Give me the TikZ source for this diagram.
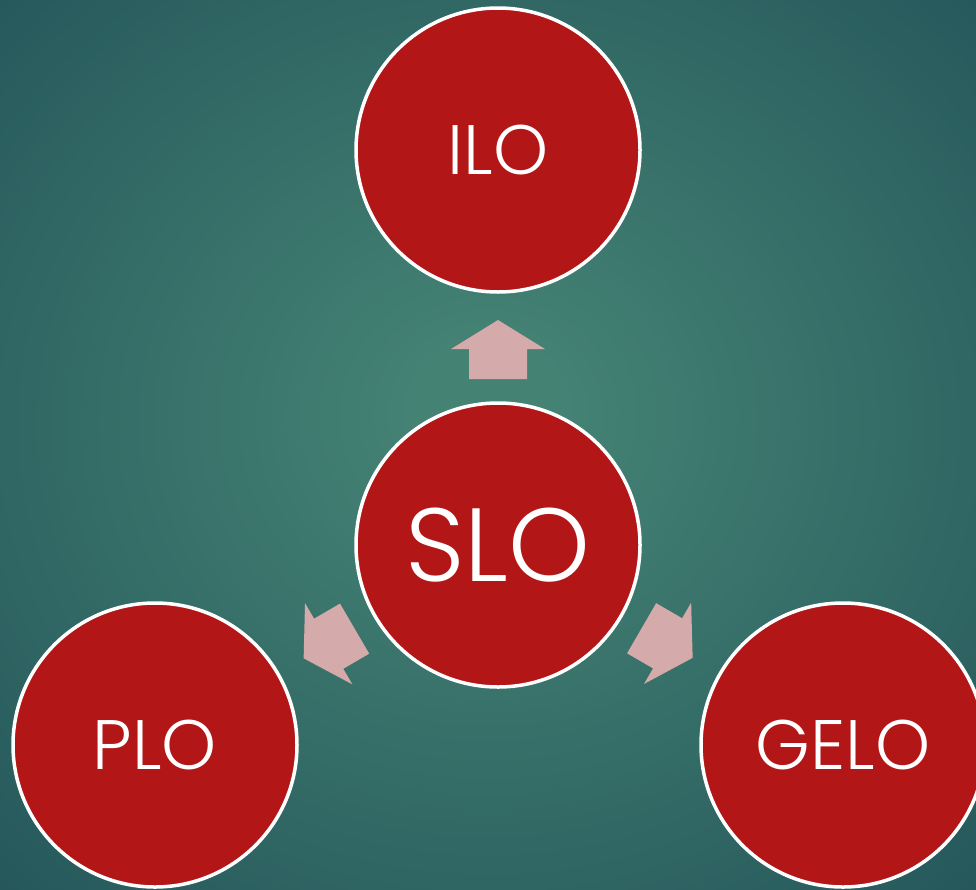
\documentclass[tikz,border=0pt]{standalone}
\usepackage{fontspec}
\setmainfont{Poppins Light}
\usetikzlibrary{calc}
\definecolor{bgin}{RGB}{68,130,116}
\definecolor{bgout}{RGB}{36,86,90}
\definecolor{circred}{RGB}{178,22,22}
\definecolor{arrowpink}{RGB}{212,170,170}
\pgfdeclareradialshading{bgshade}{\pgfpoint{0bp}{2bp}}{color(0bp)=(bgin); color(4bp)=(bgin); color(37bp)=(bgout); color(50bp)=(bgout)}
\tikzset{
  bubble/.style={circle, draw=white, line width=3.5pt, fill=circred, minimum size=284pt, inner sep=0pt, text=white},
  arrowfill/.style={fill=arrowpink},
}
\newcommand\slarrow[2]{%
  \fill[arrowfill]
    ($(#1.center)!166pt!(#2.center)!29pt!90:(#2.center)$) --
    ($(#1.center)!196pt!(#2.center)!29pt!90:(#2.center)$) --
    ($(#1.center)!196pt!(#2.center)!47pt!90:(#2.center)$) --
    ($(#1.center)!225pt!(#2.center)$) --
    ($(#1.center)!196pt!(#2.center)!47pt!-90:(#2.center)$) --
    ($(#1.center)!196pt!(#2.center)!29pt!-90:(#2.center)$) --
    ($(#1.center)!166pt!(#2.center)!29pt!-90:(#2.center)$) -- cycle;}
\begin{document}
\begin{tikzpicture}[x=1pt,y=-1pt]
  \useasboundingbox (0,0) rectangle (976,889);
  \shade[shading=bgshade] (0,0) rectangle (976,889);
  \begin{scope}
  \clip (0,0) rectangle (976,889);
  \node[bubble, font=\fontsize{70}{70}\selectfont] (ilo) at (498,150) {ILO};
  \node[bubble, font=\fontsize{104}{104}\selectfont] (slo) at (498,545) {SLO};
  \node[bubble, font=\fontsize{70}{70}\selectfont] (plo) at (155,745) {PLO};
  \node[bubble, font=\fontsize{70}{70}\selectfont] (gelo) at (843,745) {GELO};
  \slarrow{slo}{ilo}
  \slarrow{slo}{plo}
  \slarrow{slo}{gelo}
  \end{scope}
\end{tikzpicture}
\end{document}
